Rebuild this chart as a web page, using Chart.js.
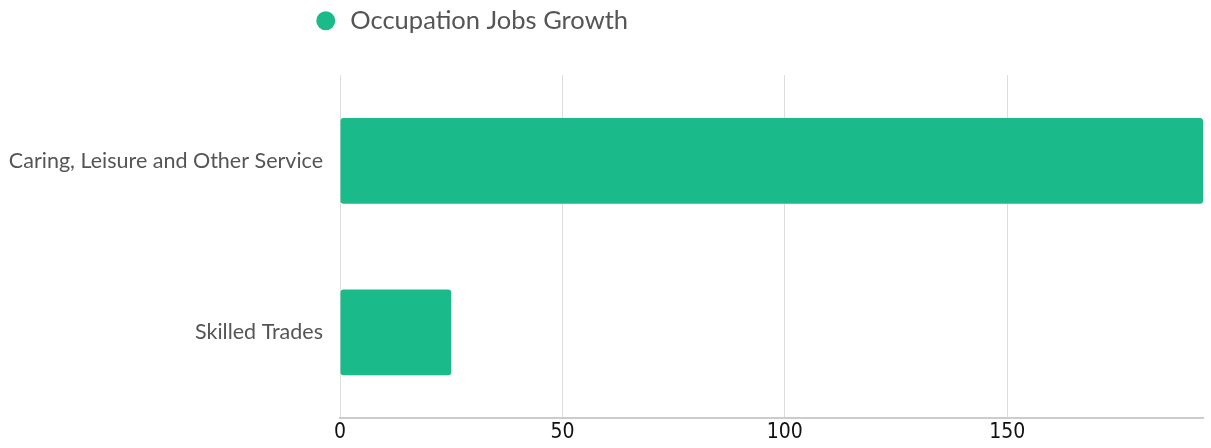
<!DOCTYPE html>
<html>
<head>
<meta charset="utf-8">
<script src="https://cdn.jsdelivr.net/npm/chart.js@4"></script>
<style>
  html, body { margin: 0; padding: 0; background: #fff; }
  #wrap { width: 1211px; height: 448px; position: relative; }
</style>
</head>
<body>
<div id="wrap"><canvas id="c"></canvas></div>
<script>
const categories = ["Caring, Leisure and Other Service", "Skilled Trades"];
const seriesName = "Occupation Jobs Growth";
const growthValues = [194, 25];
const tickStep = 50;
const barColor = "#1bba8b";

const legendPlace = {
  id: 'legendPlace',
  afterInit(chart) {
    const lg = chart.legend;
    const origFit = lg.fit;
    lg.fit = function () {
      origFit.call(this);
      this.height = 75;
    };
  },
  afterLayout(chart) {
    const lg = chart.legend;
    const w = lg.right - lg.left;
    lg.left = 306;
    lg.right = lg.left + w;
  }
};

new Chart(document.getElementById('c'), {
  type: 'bar',
  data: {
    labels: categories,
    datasets: [{
      label: seriesName,
      data: growthValues,
      backgroundColor: barColor,
      borderColor: barColor,
      borderWidth: 0,
      borderRadius: 3,
      borderSkipped: false,
      barPercentage: 0.625,
      categoryPercentage: 0.8
    }]
  },
  options: {
    indexAxis: 'y',
    responsive: true,
    maintainAspectRatio: false,
    animation: false,
    layout: { padding: { left: 0, right: 8, top: 0, bottom: 0 } },
    plugins: {
      legend: {
        display: true,
        position: 'top',
        align: 'start',
        labels: {
          usePointStyle: true,
          pointStyle: 'circle',
          boxWidth: 23.5,
          boxHeight: 13.4,
          padding: 8,
          color: '#555',
          font: { family: 'Lato', size: 25.5 }
        }
      },
      tooltip: { enabled: false }
    },
    scales: {
      x: {
        min: 0,
        max: Math.max(...growthValues),
        ticks: {
          stepSize: tickStep,
          color: '#111',
          font: { family: "'Liberation Sans Narrow', 'DejaVu Sans Condensed', sans-serif", size: 21, lineHeight: 1.2 },
          padding: 2,
          maxRotation: 0
        },
        afterBuildTicks(scale) {
          scale.ticks = scale.ticks.filter(t => t.value % tickStep === 0);
        },
        grid: { color: '#dddddd', lineWidth: 1, drawTicks: false },
        border: { color: '#cccccc', width: 2 }
      },
      y: {
        ticks: {
          color: '#555',
          font: { family: 'Lato', size: 21.5 },
          padding: 17
        },
        afterFit(scale) {
          scale.width = 340;
        },
        grid: { display: false, drawTicks: false },
        border: { display: false }
      }
    }
  },
  plugins: [legendPlace]
});
</script>
</body>
</html>
